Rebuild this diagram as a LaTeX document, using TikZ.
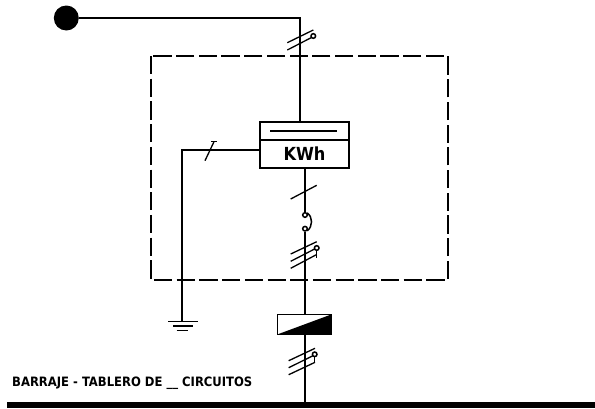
\documentclass[tikz,border=0pt]{standalone}
\usepackage{fontspec}
\setmainfont{DejaVu Sans Condensed}
\usetikzlibrary{positioning}
\tikzset{
	wire/.style={black,line width=1.5pt},
	slash/.style={black,line width=1.3pt},
	contact/.style={circle,draw=black,fill=white,line width=1.5pt,minimum size=4.6pt,inner sep=0pt},
	panel/.style={black,line width=1.3pt,dash pattern=on 18.2pt off 4.5pt},
	meterbox/.style={draw=black,fill=white,line width=1.5pt,minimum width=89pt,inner sep=0pt,outer sep=0pt}
}

\begin{document}
\begin{tikzpicture}[x=1pt,y=-1pt]
	\useasboundingbox (0,0) rectangle (595,408);
	\draw[panel] (151,56) rectangle (448,280);

	\node [circle,fill=black,minimum size=25pt,inner sep=0pt] (source) at (66.3,18) {};
	\node [fill=black,minimum width=588pt,minimum height=6pt,inner sep=0pt,outer sep=0pt] (bus) at (301,405) {};
	\node [meterbox,minimum height=18pt] (display) at (304.5,131) {};
	\node [meterbox,minimum height=28pt,font=\bfseries\fontsize{18}{20}\selectfont] (meter) at (304.5,154) {KWh};
	\node [draw=black,line width=1.5pt,minimum width=54pt,minimum height=20pt,inner sep=0pt,outer sep=0pt] (breaker) at (304.7,324.3) {};
	\fill[black] (breaker.south west) -- (breaker.north east) -- (breaker.south east) -- cycle;
	\node [anchor=base west,inner sep=0pt,font=\bfseries\fontsize{12.9}{15}\selectfont] (busname) at (12,386) {BARRAJE - TABLERO DE \_\_ CIRCUITOS};

	\coordinate (feedcorner) at (300,18);
	\coordinate (earthcorner) at (182,150);
	\coordinate (earth) at (182,321.7);
	\node [contact] (fuseup) at (305,215) {};
	\node [contact] (fusedown) at (305,228.7) {};

	\draw[wire] (source) -- (feedcorner) -- (feedcorner |- display.north);
	\draw[wire] (earthcorner -| meter.west) -- (earthcorner) -- (earth);
	\draw[wire] (fuseup |- meter.south) -- (fuseup);
	\draw[wire] (fusedown) -- (fusedown |- breaker.north);
	\draw[wire] (fusedown |- breaker.south) -- (fusedown |- bus.north);
	\draw[wire] (fuseup.north east) .. controls (313,217) and (313,226.5) .. (fusedown.south east);

	% display line and earth bars
	\draw[slash] (270,131) -- (337,131);
	\draw[slash] (168,321.7) -- (198,321.7);
	\draw[slash] (173,326) -- (193,326);
	\draw[slash] (176.7,330.7) -- (188.3,330.7);

	% marks on the top line
	\draw[slash] (287.3,42.7) -- (313.3,30);
	\draw[slash] (287.3,50) -- (311.5,37.5);
	\node [contact] (topcontact) at (313.3,36) {};

	% mark on the earth line
	\draw[slash] (205,160.7) -- (214,141.7);
	\draw[slash] (211.3,141.7) -- (217.3,141.7);

	% marks under the meter
	\draw[slash] (290.7,199) -- (316.7,185.3);

	\draw[slash] (290.7,254) -- (316.7,241.7);
	\draw[slash] (290.7,261.3) -- (315,248.8);
	\draw[slash] (290.7,268.3) -- (316.7,254.5);
	\draw[slash] (316.7,250) -- (316.7,257.5);
	\node [contact] (lowcontact) at (316.7,248) {};

	\draw[slash] (288.7,360.7) -- (315,348.3);
	\draw[slash] (288.7,367.7) -- (313,355.7);
	\draw[slash] (288.7,374.7) -- (315,362.3);
	\draw[slash] (314.7,356) -- (314.7,363);
	\node [contact] (buscontact) at (314.7,354.3) {};
\end{tikzpicture}
\end{document}
